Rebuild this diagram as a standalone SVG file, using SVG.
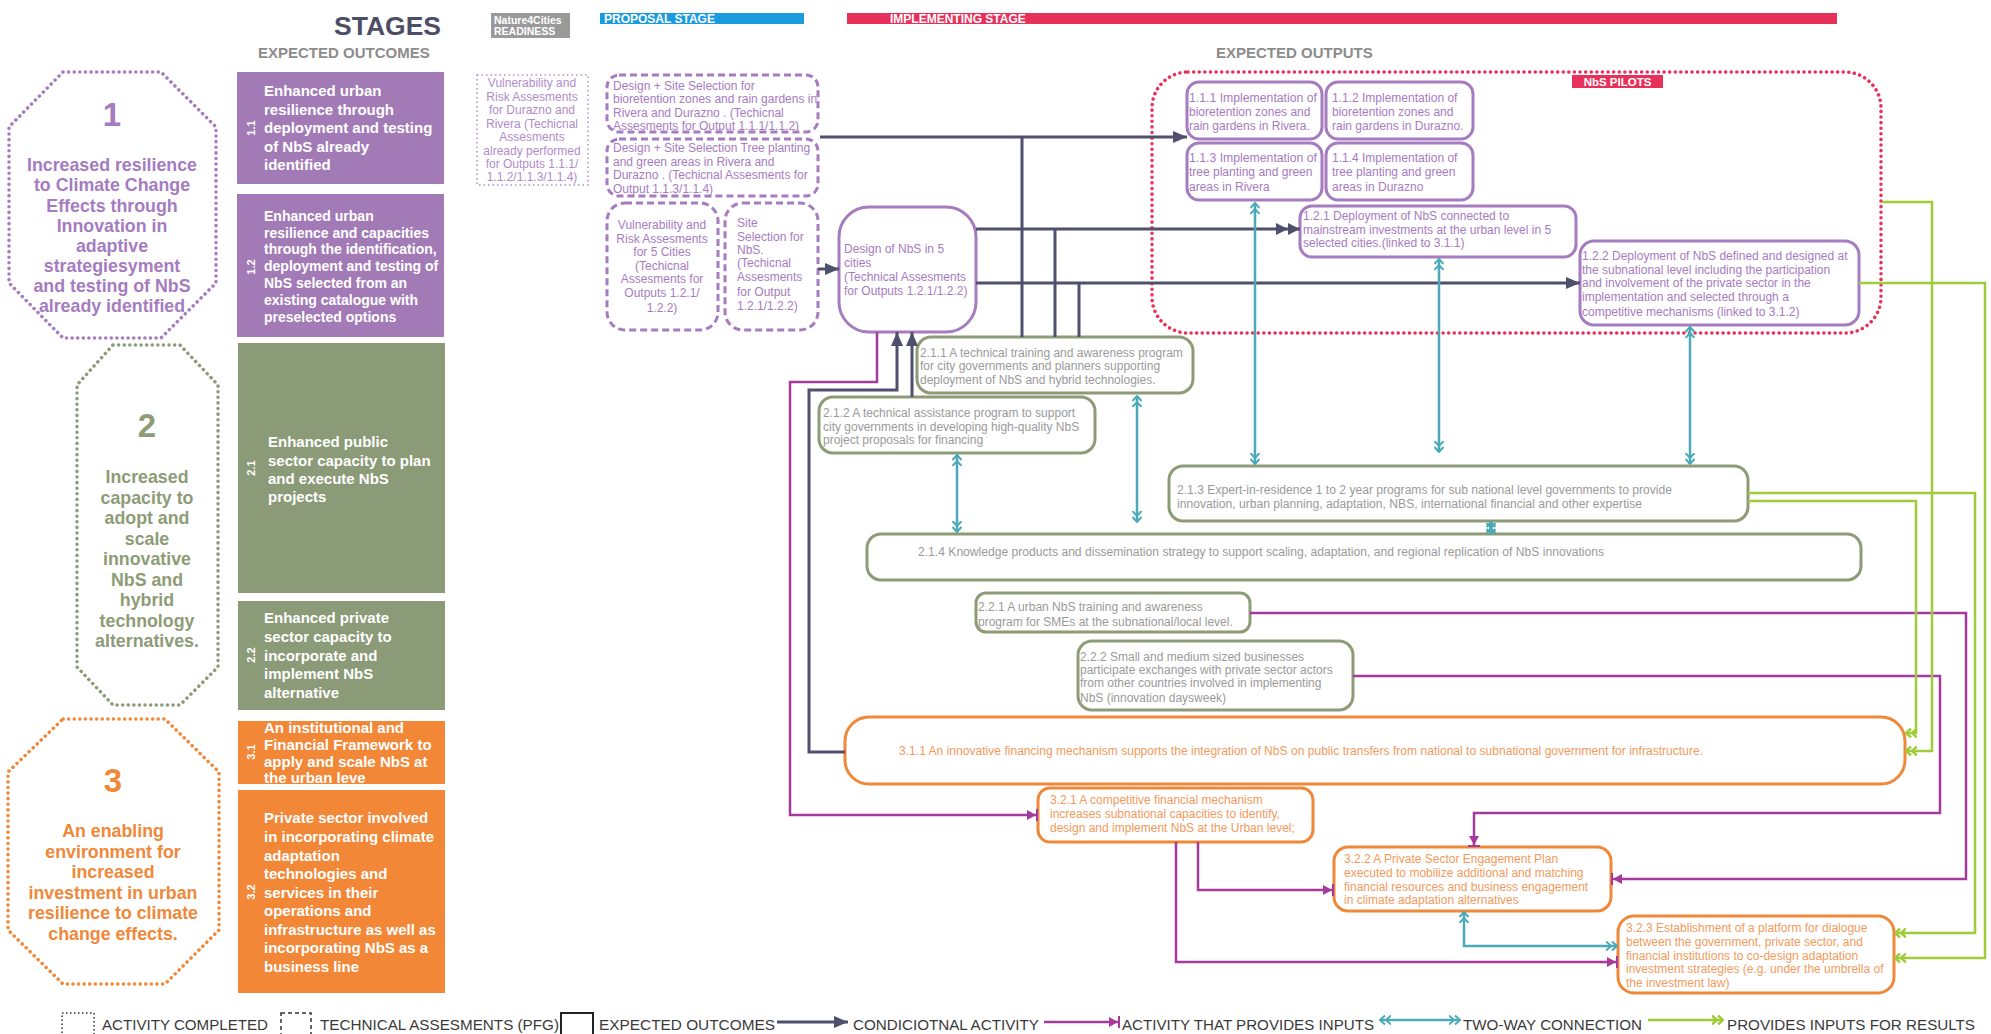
<svg xmlns="http://www.w3.org/2000/svg" width="1991" height="1034" viewBox="0 0 1991 1034">
<style>
text{font-family:"Liberation Sans",Arial,sans-serif}
.hdr{font-weight:bold;fill:#8c8c8c;font-size:15px}
.bar{font-weight:bold;fill:#fff;font-size:12px}
.oct{fill:none;stroke-width:3.5;stroke-linecap:round;stroke-dasharray:0.1 5.5}
.octt{font-weight:bold;font-size:17.8px;text-anchor:middle}
.num{font-weight:bold;font-size:33px;text-anchor:middle}
.ob{fill:#fff;font-weight:bold;font-size:15px}
.lab{fill:#fff;font-weight:bold;font-size:11px;text-anchor:middle}
.pfill{fill:#a27bb6}
.gfill{fill:#8b9a77}
.ofill{fill:#f28737}
.pn{fill:#fff;stroke:#a57cbf;stroke-width:3}
.gn{fill:#fff;stroke:#8d9c76;stroke-width:3}
.on{fill:#fff;stroke:#f0883a;stroke-width:3}
.dn{fill:#fff;stroke:#a57cbf;stroke-width:3;stroke-dasharray:7 4}
.cn{fill:#fff;stroke:#b08ccb;stroke-width:1.5;stroke-dasharray:1.5 3}
.tp{fill:#a57cbf;font-size:12px}
.tc{fill:#b08ccb;font-size:12px;text-anchor:middle}
.tg{fill:#9a9a9a;font-size:12px}
.to{fill:#f39a5c;font-size:12px}
.cond{fill:none;stroke:#4f4f6e;stroke-width:3}
.mag{fill:none;stroke:#a63a9c;stroke-width:2.5}
.teal{fill:none;stroke:#4aaab8;stroke-width:2.5}
.grn{fill:none;stroke:#a0cc3a;stroke-width:2.5}
.leg{fill:#3a3a3a;font-size:14.5px}
</style>
<defs>
<marker id="mc" viewBox="0 0 14 12" refX="14" refY="6" markerWidth="14" markerHeight="12" markerUnits="userSpaceOnUse" orient="auto"><path d="M0,0 L14,6 L0,12 z" fill="#4f4f6e"/></marker>
<marker id="mc2" viewBox="0 0 24 12" refX="24" refY="6" markerWidth="24" markerHeight="12" markerUnits="userSpaceOnUse" orient="auto"><path d="M0,0 L12,6 L0,12 z M12,0 L24,6 L12,12 z" fill="#4f4f6e"/></marker>
<marker id="mm" viewBox="0 0 11 12" refX="11" refY="6" markerWidth="11" markerHeight="12" markerUnits="userSpaceOnUse" orient="auto"><path d="M0,1 L9,6 L0,11 z" fill="#a63a9c"/><rect x="9" y="0" width="2" height="12" fill="#a63a9c"/></marker>
<marker id="mt" viewBox="0 0 12 10" refX="11" refY="5" markerWidth="12" markerHeight="10" markerUnits="userSpaceOnUse" orient="auto-start-reverse"><path d="M0,0.5 L5,5 L0,9.5 M6,0.5 L11,5 L6,9.5" fill="none" stroke="#4aaab8" stroke-width="2"/></marker>
<marker id="mg" viewBox="0 0 12 10" refX="11" refY="5" markerWidth="12" markerHeight="10" markerUnits="userSpaceOnUse" orient="auto"><path d="M0,0.5 L5,5 L0,9.5 M6,0.5 L11,5 L6,9.5" fill="none" stroke="#a0cc3a" stroke-width="2.5"/></marker>
</defs>
<rect width="1991" height="1034" fill="#fff"/>

<g id="header">
<text x="334" y="35" font-size="26.5" font-weight="bold" fill="#4d4d66">STAGES</text>
<rect x="491" y="13" width="79" height="25" fill="#9a9a9a"/>
<text x="494" y="24" class="bar" style="font-size:10.5px">Nature4Cities</text>
<text x="494" y="35" class="bar" style="font-size:10.5px">READINESS</text>
<text x="258" y="58" class="hdr">EXPECTED OUTCOMES</text>
<rect x="600" y="13" width="204" height="11" fill="#1a9be0"/>
<text x="604" y="23" class="bar">PROPOSAL STAGE</text>
<rect x="847" y="13" width="990" height="11" fill="#e8315a"/>
<text x="890" y="23" class="bar">IMPLEMENTING STAGE</text>
<text x="1216" y="58" class="hdr">EXPECTED OUTPUTS</text>
</g>

<g id="goal1">
<polygon class="oct" stroke="#a57cbf" points="63,72 161,72 216,127 216,283 161,338 63,338 9,283 9,127"/>
<text x="112" y="126" class="num" fill="#a57cbf">1</text>
<g class="octt" fill="#a57cbf">
<text x="112" y="171">Increased resilience</text>
<text x="112" y="191">to Climate Change</text>
<text x="112" y="211.5">Effects through</text>
<text x="112" y="232">Innovation in</text>
<text x="112" y="252">adaptive</text>
<text x="112" y="272">strategiesyment</text>
<text x="112" y="292">and testing of NbS</text>
<text x="112" y="312">already identified</text>
</g>
</g>

<g id="goal2">
<polygon class="oct" stroke="#8d9c76" points="113,345 180,345 218,385 218,667 180,705 113,705 77,667 77,385"/>
<text x="147" y="437" class="num" fill="#8d9c76">2</text>
<g class="octt" fill="#8d9c76">
<text x="147" y="483">Increased</text>
<text x="147" y="503.5">capacity to</text>
<text x="147" y="524">adopt and</text>
<text x="147" y="544.5">scale</text>
<text x="147" y="565">innovative</text>
<text x="147" y="585.5">NbS and</text>
<text x="147" y="606">hybrid</text>
<text x="147" y="626.5">technology</text>
<text x="147" y="647">alternatives.</text>
</g>
</g>

<g id="goal3">
<polygon class="oct" stroke="#f0883a" points="63,719 165,719 219,772 219,930 165,984 63,984 8,930 8,772"/>
<text x="113" y="792" class="num" fill="#f0883a">3</text>
<g class="octt" fill="#f0883a">
<text x="113" y="837">An enabling</text>
<text x="113" y="857.6">environment for</text>
<text x="113" y="878">increased</text>
<text x="113" y="898.6">investment in urban</text>
<text x="113" y="919">resilience to climate</text>
<text x="113" y="940">change effects.</text>
</g>
</g>

<g id="outcome-1-1">
<rect x="237" y="72" width="207" height="112" class="pfill"/>
<text class="lab" transform="translate(255,128) rotate(-90)">1.1</text>
<g class="ob"><text x="264" y="96">Enhanced urban</text><text x="264" y="115">resilience through</text><text x="264" y="133">deployment and testing</text><text x="264" y="152">of NbS already</text><text x="264" y="170">identified</text></g>
</g>
<g id="outcome-1-2">
<rect x="237" y="194" width="207" height="143" class="pfill"/>
<text class="lab" transform="translate(255,267) rotate(-90)">1.2</text>
<g class="ob" style="font-size:14px"><text x="264" y="221">Enhanced urban</text><text x="264" y="238">resilience and capacities</text><text x="264" y="254">through the identification,</text><text x="264" y="271">deployment and testing of</text><text x="264" y="288">NbS selected from an</text><text x="264" y="305">existing catalogue with</text><text x="264" y="322">preselected options</text></g>
</g>
<g id="outcome-2-1">
<rect x="238" y="343" width="207" height="250" class="gfill"/>
<text class="lab" transform="translate(255,468) rotate(-90)">2.1</text>
<g class="ob"><text x="268" y="447">Enhanced public</text><text x="268" y="465.5">sector capacity to plan</text><text x="268" y="484">and execute NbS</text><text x="268" y="502">projects</text></g>
</g>
<g id="outcome-2-2">
<rect x="238" y="601" width="207" height="109" class="gfill"/>
<text class="lab" transform="translate(255,655) rotate(-90)">2.2</text>
<g class="ob"><text x="264" y="623">Enhanced private</text><text x="264" y="642">sector capacity to</text><text x="264" y="661">incorporate and</text><text x="264" y="679">implement NbS</text><text x="264" y="698">alternative</text></g>
</g>
<g id="outcome-3-1">
<rect x="238" y="721" width="207" height="63" class="ofill"/>
<text class="lab" transform="translate(255,752) rotate(-90)">3.1</text>
<g class="ob"><text x="264" y="733">An institutional and</text><text x="264" y="750">Financial Framework to</text><text x="264" y="767">apply and scale NbS at</text><text x="264" y="783">the urban leve</text></g>
</g>
<g id="outcome-3-2">
<rect x="238" y="790" width="207" height="203" class="ofill"/>
<text class="lab" transform="translate(255,892) rotate(-90)">3.2</text>
<g class="ob"><text x="264" y="823">Private sector involved</text><text x="264" y="842">in incorporating climate</text><text x="264" y="861">adaptation</text><text x="264" y="879">technologies and</text><text x="264" y="898">services in their</text><text x="264" y="916">operations and</text><text x="264" y="935">infrastructure as well as</text><text x="264" y="953">incorporating NbS as a</text><text x="264" y="972">business line</text></g>
</g>

<g id="readiness-vra">
<rect x="477" y="75" width="111" height="110" class="cn"/>
<g class="tc"><text x="532" y="87">Vulnerability and</text><text x="532" y="100.5">Risk Assesments</text><text x="532" y="114">for Durazno and</text><text x="532" y="127.5">Rivera (Techicnal</text><text x="532" y="141">Assesments</text><text x="532" y="154.5">already performed</text><text x="532" y="168">for Outputs 1.1.1/</text><text x="532" y="181">1.1.2/1.1.3/1.1.4)</text></g>
</g>
<g id="ta-bioretention">
<rect x="607" y="75" width="211" height="57" rx="12" class="dn"/>
<g class="tp"><text x="613" y="90">Design + Site Selection for</text><text x="613" y="103">bioretention zones and rain gardens in</text><text x="613" y="117">Rivera and Durazno . (Techicnal</text><text x="613" y="130">Assesments for Output 1.1.1/1.1.2)</text></g>
</g>
<g id="ta-trees">
<rect x="607" y="139" width="211" height="57" rx="12" class="dn"/>
<g class="tp"><text x="613" y="152">Design + Site Selection Tree planting</text><text x="613" y="166">and green areas in Rivera and</text><text x="613" y="179">Durazno . (Techicnal Assesments for</text><text x="613" y="193">Output 1.1.3/1.1.4)</text></g>
</g>
<g id="ta-vra5">
<rect x="607" y="203" width="111" height="127" rx="18" class="dn"/>
<g class="tc" style="fill:#a57cbf"><text x="662" y="229">Vulnerability and</text><text x="662" y="243">Risk Assesments</text><text x="662" y="256">for 5 Cities</text><text x="662" y="270">(Techicnal</text><text x="662" y="283">Assesments for</text><text x="662" y="297">Outputs 1.2.1/</text><text x="662" y="312">1.2.2)</text></g>
</g>
<g id="ta-site">
<rect x="725" y="203" width="93" height="127" rx="18" class="dn"/>
<g class="tp"><text x="737" y="227">Site</text><text x="737" y="241">Selection for</text><text x="737" y="254">NbS.</text><text x="737" y="267">(Techicnal</text><text x="737" y="281">Assesments</text><text x="737" y="296">for Output</text><text x="737" y="310">1.2.1/1.2.2)</text></g>
</g>
<g id="design-nbs">
<rect x="839" y="207" width="137" height="125" rx="30" class="pn"/>
<g class="tp"><text x="844" y="253">Design of NbS in 5</text><text x="844" y="267">cities</text><text x="844" y="281">(Technical Assesments</text><text x="844" y="295">for Outputs 1.2.1/1.2.2)</text></g>
</g>

<g id="nbs-pilots">
<rect x="1152" y="72" width="729" height="261" rx="36" fill="none" stroke="#e8315a" stroke-width="3.5" stroke-linecap="round" stroke-dasharray="0.1 5.5"/>
<rect x="1572" y="75" width="91" height="13" fill="#e8315a"/>
<text x="1617.5" y="86" class="bar" text-anchor="middle" style="font-size:11.5px">NbS PILOTS</text>
</g>
<g id="o111"><rect x="1187" y="82" width="135" height="57" rx="12" class="pn"/><g class="tp"><text x="1189" y="102" textLength="128" lengthAdjust="spacingAndGlyphs">1.1.1 Implementation of</text><text x="1189" y="116">bioretention zones and</text><text x="1189" y="130">rain gardens in Rivera.</text></g></g>
<g id="o112"><rect x="1326" y="82" width="147" height="57" rx="12" class="pn"/><g class="tp"><text x="1332" y="102">1.1.2 Implementation of</text><text x="1332" y="116">bioretention zones and</text><text x="1332" y="130">rain gardens in Durazno.</text></g></g>
<g id="o113"><rect x="1187" y="143" width="135" height="57" rx="12" class="pn"/><g class="tp"><text x="1189" y="162" textLength="128" lengthAdjust="spacingAndGlyphs">1.1.3 Implementation of</text><text x="1189" y="176">tree planting and green</text><text x="1189" y="191">areas in Rivera</text></g></g>
<g id="o114"><rect x="1326" y="143" width="147" height="57" rx="12" class="pn"/><g class="tp"><text x="1332" y="162">1.1.4 Implementation of</text><text x="1332" y="176">tree planting and green</text><text x="1332" y="191">areas in Durazno</text></g></g>
<g id="o121"><rect x="1300" y="206" width="276" height="51" rx="12" class="pn"/><g class="tp"><text x="1303" y="220">1.2.1 Deployment of NbS connected to</text><text x="1303" y="234">mainstream investments  at the urban level in 5</text><text x="1303" y="247">selected cities.(linked to 3.1.1)</text></g></g>
<g id="o122"><rect x="1580" y="241" width="279" height="84" rx="14" class="pn"/><g class="tp"><text x="1582" y="260">1.2.2 Deployment of NbS defined and designed at</text><text x="1582" y="274">the subnational level including the participation</text><text x="1582" y="287">and involvement of the private sector in the</text><text x="1582" y="301">implementation and selected through a</text><text x="1582" y="316">competitive mechanisms (linked to 3.1.2)</text></g></g>

<g id="o211"><rect x="917" y="337" width="276" height="56" rx="14" class="gn"/><g class="tg"><text x="920" y="357">2.1.1 A technical training and awareness program</text><text x="920" y="370">for city governments and planners supporting</text><text x="920" y="384">deployment of NbS and hybrid technologies.</text></g></g>
<g id="o212"><rect x="819" y="397" width="276" height="56" rx="14" class="gn"/><g class="tg"><text x="823" y="417">2.1.2 A technical assistance program to support</text><text x="823" y="431">city governments in developing high-quality NbS</text><text x="823" y="444">project proposals for financing</text></g></g>
<g id="o213"><rect x="1169" y="466" width="579" height="55" rx="14" class="gn"/><g class="tg"><text x="1177" y="494" textLength="495" lengthAdjust="spacingAndGlyphs">2.1.3 Expert-in-residence 1 to 2 year programs for sub national level governments to provide</text><text x="1177" y="508" textLength="465" lengthAdjust="spacingAndGlyphs">innovation, urban planning, adaptation, NBS, international financial and other expertise</text></g></g>
<g id="o214"><rect x="867" y="534" width="994" height="46" rx="14" class="gn"/><text x="918" y="556" class="tg" textLength="686" lengthAdjust="spacingAndGlyphs">2.1.4 Knowledge products and dissemination strategy to support scaling, adaptation, and regional replication of NbS innovations</text></g>
<g id="o221"><rect x="976" y="593" width="274" height="39" rx="10" class="gn"/><g class="tg"><text x="978" y="611">2.2.1 A urban NbS training and awareness</text><text x="978" y="626">program for SMEs at the subnational/local level.</text></g></g>
<g id="o222"><rect x="1078" y="641" width="275" height="69" rx="14" class="gn"/><g class="tg"><text x="1080" y="661">2.2.2  Small and medium sized businesses</text><text x="1080" y="674">participate exchanges with private sector actors</text><text x="1080" y="687">from other countries involved in implementing</text><text x="1080" y="702">NbS (innovation daysweek)</text></g></g>
<g id="o311"><rect x="845" y="717" width="1060" height="67" rx="24" class="on"/><text x="899" y="755" class="to" textLength="804" lengthAdjust="spacingAndGlyphs">3.1.1 An innovative financing mechanism supports the integration of NbS on public transfers from national to subnational government for infrastructure.</text></g>
<g id="o321"><rect x="1038" y="788" width="275" height="54" rx="12" class="on"/><g class="to"><text x="1050" y="804">3.2.1 A competitive financial mechanism</text><text x="1050" y="818">increases subnational capacities to identify,</text><text x="1050" y="832">design and implement NbS at the Urban level;</text></g></g>
<g id="o322"><rect x="1334" y="847" width="277" height="64" rx="14" class="on"/><g class="to"><text x="1344" y="863">3.2.2 A Private Sector Engagement Plan</text><text x="1344" y="877">executed to mobilize additional and matching</text><text x="1344" y="891">financial resources and business engagement</text><text x="1344" y="904">in climate adaptation alternatives</text></g></g>
<g id="o323"><rect x="1618" y="916" width="276" height="77" rx="16" class="on"/><g class="to"><text x="1626" y="932">3.2.3 Establishment of a platform for dialogue</text><text x="1626" y="946">between the government, private sector, and</text><text x="1626" y="959.5">financial institutions to co-design adaptation</text><text x="1626" y="973">investment strategies (e.g. under the umbrella of</text><text x="1626" y="987">the investment law)</text></g></g>

<g id="connectors">
<path class="cond" d="M820,137 H1187" marker-end="url(#mc)"/>
<path class="cond" d="M1022,337 V137"/>
<path class="cond" d="M976,229 H1300" marker-end="url(#mc2)"/>
<path class="cond" d="M1055,337 V229"/>
<path class="cond" d="M976,283 H1580" marker-end="url(#mc)"/>
<path class="cond" d="M1079,337 V283"/>
<path class="cond" d="M818,269 H839" marker-end="url(#mc)"/>
<path class="cond" d="M845,752 H809 V390 H897 V332" marker-end="url(#mc)"/>
<path class="cond" d="M912,397 V332" marker-end="url(#mc)"/>

<path class="mag" d="M877,332 V382 H790 V815 H1038" marker-end="url(#mm)"/>
<path class="mag" d="M1198,842 V890 H1334" marker-end="url(#mm)"/>
<path class="mag" d="M1176,842 V962 H1618" marker-end="url(#mm)"/>
<path class="mag" d="M1250,613 H1966 V879 H1611" marker-end="url(#mm)"/>
<path class="mag" d="M1353,676 H1940 V813 H1474 V847" marker-end="url(#mm)"/>

<path class="teal" d="M1255,203 V464" marker-start="url(#mt)" marker-end="url(#mt)"/>
<path class="teal" d="M1439,259 V452" marker-start="url(#mt)" marker-end="url(#mt)"/>
<path class="teal" d="M1690,327 V464" marker-start="url(#mt)" marker-end="url(#mt)"/>
<path class="teal" d="M957,455 V532" marker-start="url(#mt)" marker-end="url(#mt)"/>
<path class="teal" d="M1137,396 V522" marker-start="url(#mt)" marker-end="url(#mt)"/>
<path class="teal" d="M1491,522 V534" marker-start="url(#mt)" marker-end="url(#mt)"/>
<path class="teal" d="M1464,912 V946 H1617" marker-start="url(#mt)" marker-end="url(#mt)"/>

<path class="grn" d="M1882,202 H1932 V751 H1906" marker-end="url(#mg)"/>
<path class="grn" d="M1748,501 H1916 V733 H1906" marker-end="url(#mg)"/>
<path class="grn" d="M1748,493 H1975 V933 H1895" marker-end="url(#mg)"/>
<path class="grn" d="M1859,283 H1985 V958 H1895" marker-end="url(#mg)"/>
</g>

<g id="legend">
<rect x="62" y="1013" width="32" height="24" fill="none" stroke="#333" stroke-width="1.5" stroke-dasharray="1.5 2.5"/>
<text x="102" y="1030" class="leg" textLength="166" lengthAdjust="spacingAndGlyphs">ACTIVITY COMPLETED</text>
<rect x="281" y="1013" width="30" height="24" fill="none" stroke="#333" stroke-width="1.5" stroke-dasharray="4 3"/>
<text x="320" y="1030" class="leg" textLength="239" lengthAdjust="spacingAndGlyphs">TECHNICAL ASSESMENTS (PFG)</text>
<rect x="561" y="1013" width="32" height="24" fill="none" stroke="#222" stroke-width="2"/>
<text x="599" y="1030" class="leg" textLength="176" lengthAdjust="spacingAndGlyphs">EXPECTED OUTCOMES</text>
<path class="cond" d="M777,1022 H848" marker-end="url(#mc)"/>
<text x="853" y="1030" class="leg" textLength="186" lengthAdjust="spacingAndGlyphs">CONDICIOTNAL ACTIVITY</text>
<path class="mag" d="M1044,1022 H1120" marker-end="url(#mm)"/>
<text x="1122" y="1030" class="leg" textLength="252" lengthAdjust="spacingAndGlyphs">ACTIVITY THAT PROVIDES INPUTS</text>
<path class="teal" d="M1380,1020 H1460" marker-start="url(#mt)" marker-end="url(#mt)"/>
<text x="1463" y="1030" class="leg" textLength="179" lengthAdjust="spacingAndGlyphs">TWO-WAY CONNECTION</text>
<path class="grn" d="M1648,1020 H1723" marker-end="url(#mg)"/>
<text x="1727" y="1030" class="leg" textLength="248" lengthAdjust="spacingAndGlyphs">PROVIDES INPUTS FOR RESULTS</text>
</g>
</svg>
